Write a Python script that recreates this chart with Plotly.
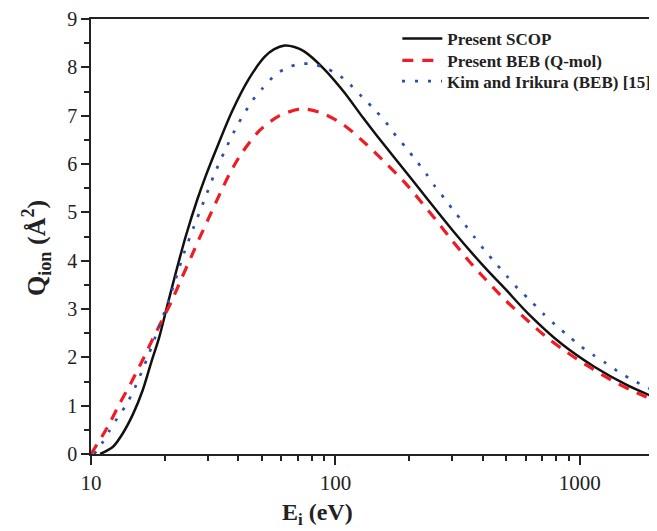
import plotly.graph_objects as go

# ---- data ----
scop_E = [10.9, 12.3, 13.5, 14.9, 16.3, 17.6, 19.05, 20.4, 22.2, 24.4, 27.2, 29.4, 33.3, 37.7,
          44.0, 51.4, 56.0, 62.0, 68.0, 74.5, 89.7, 108, 130, 147, 201, 300,
          410, 494, 613, 836, 1141, 1554, 1940]
scop_Q = [0.0, 0.15, 0.43, 0.84, 1.33, 1.88, 2.43, 3.02, 3.74, 4.5, 5.26, 5.74, 6.43, 7.08,
          7.74, 8.22, 8.37, 8.45, 8.42, 8.33, 7.97, 7.5, 6.95, 6.6, 5.74, 4.64,
          3.85, 3.42, 2.91, 2.29, 1.81, 1.43, 1.21]

beb_E = [10.0, 11.67, 13.0, 14.5, 16.1, 17.7, 19.5, 21.4, 23.4, 25.7, 27.8, 30.3, 33.8, 37.1,
         41.3, 49.1, 59.1, 72.7, 88.3, 108, 133, 162, 192, 224, 257, 300, 351, 410, 494, 576,
         663, 738, 849, 976, 1112, 1231, 1439, 1706, 1940]
beb_Q = [0.0, 0.55, 1.01, 1.45, 1.9, 2.33, 2.76, 3.17, 3.62, 4.08, 4.47, 4.88, 5.4, 5.82,
         6.22, 6.7, 7.0, 7.14, 7.05, 6.81, 6.42, 6.0, 5.62, 5.22, 4.85, 4.42, 4.0, 3.62, 3.19,
         2.88, 2.6, 2.4, 2.17, 1.96, 1.78, 1.64, 1.45, 1.27, 1.15]

kim_E = [10.3, 11.08, 11.9, 12.8, 13.9, 14.9, 17.1, 18.75, 20.6, 22.2, 24.0, 26.4, 28.9, 31.8,
         35.4, 39.8, 45.6, 50.2, 56.4, 63.8, 71.8, 80.5, 90.3, 102, 115, 129, 145, 161, 177,
         195, 214, 235, 256, 280, 306, 337, 370, 407, 450, 501, 558, 629, 709, 798, 895, 1007,
         1133, 1278, 1439, 1618, 1827, 1940]
kim_Q = [0.0, 0.22, 0.48, 0.74, 1.01, 1.3, 2.02, 2.56, 3.12, 3.62, 4.15, 4.71, 5.22, 5.76,
         6.29, 6.81, 7.3, 7.56, 7.83, 8.0, 8.07, 8.07, 7.99, 7.86, 7.64, 7.38, 7.12, 6.86, 6.58,
         6.33, 6.07, 5.8, 5.53, 5.28, 5.02, 4.76, 4.49, 4.22, 3.96, 3.69, 3.42, 3.17, 2.9, 2.66,
         2.45, 2.23, 2.05, 1.88, 1.70, 1.55, 1.41, 1.35]

series_names = ["Present SCOP", "Present BEB (Q-mol)", "Kim and Irikura (BEB) [15]"]

x_major = [10, 100, 1000]
x_major_text = ["10", "100", "1000"]
x_minor = [20, 30, 40, 50, 60, 70, 80, 90, 200, 300, 400, 500, 600, 700, 800, 900]

FONT = "Liberation Serif"
INK = "#222222"

fig = go.Figure()
fig.add_trace(go.Scatter(x=scop_E, y=scop_Q, mode="lines", name=series_names[0], legend="legend",
                         line=dict(color="#111111", width=2.5, shape="spline", smoothing=0.8)))
fig.add_trace(go.Scatter(x=beb_E, y=beb_Q, mode="lines", name=series_names[1], legend="legend2",
                         line=dict(color="#ee1c25", width=3.2, dash="11px,9px",
                                   shape="spline", smoothing=0.8)))
fig.add_trace(go.Scatter(x=kim_E, y=kim_Q, mode="lines", name=series_names[2], legend="legend3",
                         line=dict(color="#2e4fa8", width=2.7, dash="3px,10px",
                                   shape="spline", smoothing=0.8)))

legend_common = dict(x=0.548, xanchor="left", yanchor="middle",
                     bgcolor="rgba(0,0,0,0)", borderwidth=0,
                     font=dict(family=FONT, size=17, color=INK, weight="bold"),
                     itemwidth=40)

fig.update_layout(
    width=649, height=523,
    margin=dict(l=82.5, r=0, t=11, b=77),
    plot_bgcolor="white", paper_bgcolor="white",
    font=dict(family=FONT, color=INK),
    showlegend=True,
    legend=dict(y=0.954, **legend_common),
    legend2=dict(y=0.904, **legend_common),
    legend3=dict(y=0.856, **legend_common),
    xaxis=dict(type="log", range=[1, 3.287],
               tickmode="array", tickvals=x_major, ticktext=x_major_text,
               ticks="outside", ticklen=9, tickwidth=1.5, tickcolor=INK,
               showline=True, linecolor=INK, linewidth=1.5, mirror=True,
               showgrid=False, zeroline=False,
               tickfont=dict(family=FONT, size=21, color=INK),
               minor=dict(tickmode="array", tickvals=x_minor, ticks="outside",
                          ticklen=5, tickwidth=1.5, tickcolor=INK, showgrid=False)),
    yaxis=dict(range=[0, 9], tickmode="linear", tick0=0, dtick=1,
               ticks="outside", ticklen=8, tickwidth=1.5, tickcolor=INK,
               showline=True, linecolor=INK, linewidth=1.5, mirror=False,
               showgrid=False, zeroline=False,
               tickfont=dict(family=FONT, size=20, color=INK),
               minor=dict(dtick=0.5, ticks="outside", ticklen=5, tickwidth=1.5,
                          tickcolor=INK, showgrid=False)),
    annotations=[
        dict(text="<b>E<sub>i</sub> (eV)</b>", xref="paper", yref="paper",
             x=0.405, y=-0.138, xanchor="center", yanchor="middle", showarrow=False,
             font=dict(family=FONT, size=24, color=INK)),
        dict(text="<b>Q<sub>ion</sub> (Å<sup>2</sup>)</b>", xref="paper", yref="paper",
             x=-0.098, y=0.474, xanchor="center", yanchor="middle", showarrow=False,
             textangle=-90, font=dict(family=FONT, size=26, color=INK)),
    ],
)

fig.write_html("out.html")
